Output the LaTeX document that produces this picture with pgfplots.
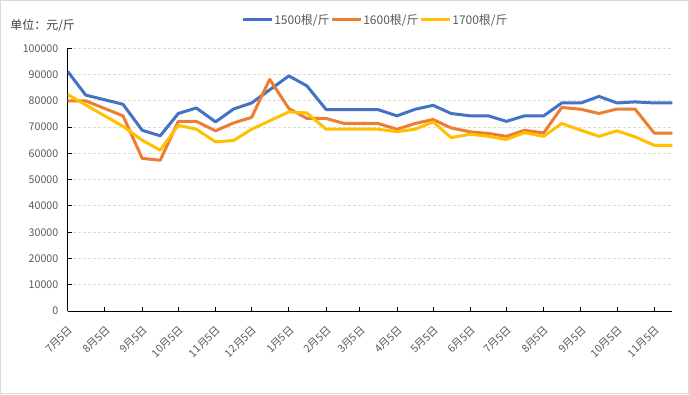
\documentclass[border=0pt]{standalone}
\usepackage{fontspec}
\setmainfont{Noto Sans CJK SC}
\usepackage{pgfplots}
\pgfplotsset{compat=1.18}
\definecolor{cblue}{HTML}{4472C4}
\definecolor{corange}{HTML}{ED7D31}
\definecolor{cyellow}{HTML}{FFC000}
\definecolor{cgrid}{HTML}{D9E0D0}
\definecolor{ctext}{HTML}{595959}
\definecolor{cframe}{HTML}{D9D9D9}
\begin{document}
\begin{tikzpicture}
\useasboundingbox (0pt,0pt) rectangle (516.75pt,295.5pt);
\draw[cframe, line width=0.75pt] (0.375pt,0.375pt) rectangle (516.375pt,295.125pt);
\node[anchor=west, text=black!75, font=\fontsize{9}{10}\selectfont, inner sep=0pt] at (7.5pt,276.75pt) {单位：元/斤};
\begin{axis}[
  at={(50.775pt,62.25pt)}, anchor=south west, scale only axis,
  width=453.45pt, height=197pt,
  xmin=0, xmax=503, ymin=0, ymax=100000,
  scaled y ticks=false,
  axis x line*=bottom, axis y line*=left,
  axis line style={-, black, line width=0.75pt},
  tick align=inside, major tick length=3pt,
  tick style={black, line width=0.75pt},
  ymajorgrids,
  major grid style={cgrid, dash pattern=on 2.25pt off 1.5pt, line width=0.75pt},
  ytick={0,10000,20000,30000,40000,50000,60000,70000,80000,90000,100000},
  yticklabels={0,10000,20000,30000,40000,50000,60000,70000,80000,90000,100000},
  yticklabel style={text=ctext, font=\fontsize{8}{9}\selectfont, xshift=-3.5pt},
  xtick={0,31,62,92,123,153,184,215,243,274,304,335,365,396,427,457,488},
  xticklabels={7月5日,8月5日,9月5日,10月5日,11月5日,12月5日,1月5日,2月5日,3月5日,4月5日,5月5日,6月5日,7月5日,8月5日,9月5日,10月5日,11月5日},
  xticklabel style={xshift=2.5pt, yshift=-12.5pt, rotate=45, anchor=east, inner sep=0pt, text=ctext, font=\fontsize{8}{9}\selectfont},
  no markers,
  legend columns=3,
  legend style={at={(0.508,1.108)}, anchor=center, draw=none, fill=none,
    font=\fontsize{9}{10}\selectfont, text=ctext, inner sep=0pt,
    nodes={inner sep=0.5pt}, /tikz/every even column/.append style={column sep=0pt}},
  legend image code/.code={\draw[#1, line width=2.25pt] (0pt,0pt) -- (22pt,0pt);},
]
\addplot[cblue, line width=2.25pt, line join=round] coordinates {
(0,91200) (15,82200) (46,78700) (62,68800) (77,66700) (92,75200) (107,77300)
(123,72000) (138,76900) (153,79200) (184,89500) (199,85700) (215,76700)
(230,76700) (243,76700) (258,76700) (274,74300) (289,76800) (304,78300)
(319,75200) (335,74300) (350,74300) (365,72200) (380,74300) (396,74300)
(411,79200) (427,79200) (442,81700) (457,79200) (472,79600) (488,79200) (503,79200)
};
\addlegendentry{1500根/斤}
\addplot[corange, line width=2.25pt, line join=round] coordinates {
(0,80000) (15,80000) (46,74300) (62,58100) (77,57400) (92,72200) (107,72200)
(123,68600) (138,71600) (153,73700) (168,88200) (184,77100) (199,73300)
(215,73300) (230,71400) (243,71400) (258,71400) (274,69200) (289,71400)
(304,72900) (319,69700) (335,68200) (350,67600) (365,66500) (380,68800)
(396,67800) (411,77500) (427,76800) (442,75200) (457,76900) (472,76900)
(488,67700) (503,67700)
};
\addlegendentry{1600根/斤}
\addplot[cyellow, line width=2.25pt, line join=round] coordinates {
(0,82400) (46,70300) (62,65000) (77,61200) (92,70700) (107,69200) (123,64400)
(138,64900) (153,69200) (184,75800) (199,75400) (215,69200) (230,69200)
(243,69200) (258,69200) (274,68300) (289,69200) (304,72000) (319,66000)
(335,67300) (350,66500) (365,65300) (380,67900) (396,66500) (411,71400)
(427,68800) (442,66500) (457,68600) (472,66300) (488,63100) (503,63100)
};
\addlegendentry{1700根/斤}
\end{axis}
\end{tikzpicture}
\end{document}
